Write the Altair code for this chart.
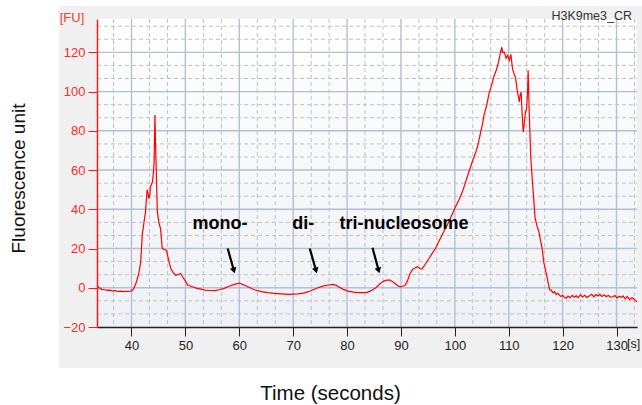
import altair as alt
import pandas as pd

# ---- trace ----
time_s = [33.6, 34.0, 34.5, 35.0, 35.5, 36.0, 36.5, 37.0, 37.5, 38.0, 38.5, 39.0, 39.5, 40.0,
          40.4, 40.8, 41.1, 41.4, 41.7, 42.0, 42.3, 42.6, 42.9, 43.1, 43.2, 43.4, 43.5, 43.9,
          44.1, 44.2, 44.3, 44.35, 44.45, 44.6, 44.8, 45.1, 45.4, 45.7, 46.1, 46.5, 46.9, 47.3,
          47.8, 48.2, 48.7, 49.1, 49.5, 50.1, 50.4, 51.3, 52.0, 52.9, 53.6, 54.5, 55.4, 56.3,
          57.2, 58.1, 59.1, 60.0, 60.8, 61.6, 62.8, 64.1, 65.3, 66.5, 67.8, 69.0, 70.0, 70.9,
          71.9, 72.8, 73.7, 74.6, 75.5, 76.5, 77.4, 78.0, 78.4, 79.3, 80.2, 81.2, 82.1, 83.6,
          84.4, 85.2, 86.0, 86.8, 87.4, 88.0, 88.5, 88.9, 89.4, 89.9, 90.4, 90.8, 91.2, 91.7,
          92.2, 92.7, 93.0, 93.5, 93.9, 94.5, 95.2, 95.8, 96.4, 97.0, 97.6, 98.2, 98.9, 99.5,
          100.1, 100.8, 101.4, 102.0, 102.6, 103.2, 103.9, 104.3, 104.8, 105.1, 105.4, 105.9,
          106.4, 106.8, 107.3, 107.7, 108.1, 108.4, 108.7, 108.9, 109.2, 109.5, 109.8, 110.1,
          110.4, 110.6, 110.7, 111.0, 111.3, 111.6, 111.96, 112.1, 112.3, 112.5, 112.7, 112.9,
          113.1, 113.3, 113.5, 113.6, 113.7, 113.8, 114.1, 114.4, 114.9, 115.3, 115.6, 115.9,
          116.2, 116.5, 116.9, 117.2, 117.4, 117.6, 117.9, 118.2, 118.5, 118.8, 119.1, 119.4,
          119.7, 120.0, 120.4, 120.7, 121.0, 121.4, 121.8, 122.2, 122.5, 122.9, 123.3, 123.7,
          124.1, 124.5, 125.0, 125.4, 125.8, 126.2, 126.6, 126.9, 127.3, 127.7, 128.1, 128.5,
          128.9, 129.3, 129.7, 130.1, 130.5, 130.9, 131.2, 131.6, 132.0, 132.4, 132.8, 133.1,
          133.5, 133.8]
fu = [1.0, 0.0, -0.8, -1.0, -1.3, -1.2, -1.6, -1.5, -1.9, -1.7, -2.0, -1.8, -1.9, -1.6,
      -0.5, 2.0, 4.7, 8.0, 13.0, 27.0, 33.0, 38.7, 50.0, 48.0, 45.5, 47.0, 51.4, 54.0,
      60.0, 64.0, 80.0, 88.0, 75.0, 59.0, 38.7, 33.0, 30.0, 20.0, 19.5, 19.0, 14.0, 9.8,
      7.5, 6.4, 6.8, 7.3, 5.5, 3.0, 1.4, 0.5, -0.2, -0.7, -1.2, -1.4, -1.5, -1.0,
      -0.3, 0.8, 1.7, 2.4, 1.5, 0.5, -1.0, -2.0, -2.5, -2.9, -3.1, -3.4, -3.2, -3.1,
      -2.7, -2.0, -1.0, 0.0, 0.8, 1.4, 1.7, 1.2, 0.5, -0.8, -1.7, -2.2, -2.5, -2.5,
      -1.6, -0.3, 1.8, 3.4, 3.9, 3.9, 3.0, 2.2, 1.0, 0.5, 0.9, 1.4, 3.5, 7.3,
      9.5, 10.2, 10.7, 9.8, 9.5, 12.0, 14.9, 17.5, 20.0, 23.5, 26.8, 30.0, 33.6, 37.5,
      41.2, 45.0, 48.9, 54.0, 59.0, 64.0, 69.2, 73.0, 79.4, 83.0, 87.9, 93.0,
      99.7, 103.0, 108.2, 111.0, 115.0, 119.0, 122.6, 120.0, 120.0, 117.0, 118.4, 116.0,
      119.0, 114.0, 111.6, 109.0, 106.5, 100.0, 94.7, 98.0, 99.7, 88.0, 79.4, 84.0,
      89.6, 91.0, 100.0, 110.8, 100.0, 89.6, 65.8, 54.0, 35.3, 31.0, 28.5, 24.0,
      20.0, 13.0, 8.1, 4.0, 1.4, -1.0, -1.2, -2.6, -2.0, -3.5, -2.8, -3.7,
      -4.5, -3.9, -5.0, -5.4, -4.2, -5.1, -3.9, -4.8, -4.1, -5.0, -3.6, -4.7,
      -3.8, -4.9, -4.1, -3.3, -4.6, -3.5, -4.2, -3.4, -4.4, -3.7, -4.5, -3.9,
      -4.8, -4.6, -4.0, -5.2, -4.3, -4.9, -4.1, -5.6, -4.4, -6.0, -5.2, -5.4,
      -6.5, -7.1]

# ---- ticks / grid ----
x_ticks = [40, 50, 60, 70, 80, 90, 100, 110, 120, 130]
y_ticks = [-20, 0, 20, 40, 60, 80, 100, 120]
x_domain = [33.6, 133.8]
y_domain = [-20, 137]
x_minor = [round(m + d, 3) for m in [30] + x_ticks for d in (10 / 3, 20 / 3)
           if x_domain[0] < m + d < x_domain[1]]
y_minor = [round(m + d, 3) for m in y_ticks for d in (20 / 3, 40 / 3)
           if y_domain[0] < m + d < y_domain[1]]

# ---- annotations ----
ann_labels = ["mono-", "di-", "tri-nucleosome"]
ann_x = [56.4, 71.85, 90.56]
ann_y = [32.6, 32.6, 32.6]
arrow_x1 = [57.85, 73.08, 84.72]
arrow_y1 = [20.0, 20.0, 20.4]
arrow_x2 = [59.0, 74.24, 85.86]
arrow_y2 = [8.8, 8.8, 8.8]

W, H = 540, 308
FONT = "Liberation Sans"

df = pd.DataFrame({"t": time_s, "fu": fu})
xs = alt.Scale(domain=x_domain, nice=False, zero=False)
ys = alt.Scale(domain=y_domain, nice=False, zero=False)
one = pd.DataFrame({"a": [0]})

x_axis = alt.Axis(values=x_ticks, title="Time (seconds)", grid=False,
                  domainColor="#222222", domainWidth=1.5, tickColor="#222222",
                  tickSize=9, labelColor="#222222", labelFont=FONT, labelFontSize=13,
                  labelPadding=3, titleFont=FONT, titleFontSize=20.5,
                  titleFontWeight="normal", titleColor="#111111",
                  titleX=233, titleY=66, titleBaseline="middle", zindex=1)
y_axis = alt.Axis(values=y_ticks, title="Fluorescence unit", grid=False,
                  domainColor="#ff1a1a", domainWidth=1.5, tickColor="#ff1a1a",
                  tickSize=9, labelColor="#ff2a2a", labelFont=FONT, labelFontSize=13,
                  labelPadding=3, titleFont=FONT, titleFontSize=19,
                  titleFontWeight="normal", titleColor="#111111",
                  titleX=-79, titleY=159, titleAngle=-90, titleAlign="center",
                  titleBaseline="middle", zindex=1)


def X(field):
    return alt.X(field, scale=xs, axis=x_axis)


def Y(field):
    return alt.Y(field, scale=ys, axis=y_axis)


panel = alt.Chart(one).mark_rect(color="#f0f0f0").encode(
    x=alt.value(-38), x2=alt.value(545), y=alt.value(-13), y2=alt.value(349))

bg = alt.Chart(one).mark_rect(
    color=alt.Gradient(gradient="linear",
                       stops=[alt.GradientStop(color="#ffffff", offset=0),
                              alt.GradientStop(color="#edf0f5", offset=1)],
                       x1=0, x2=0, y1=0, y2=1)
).encode(x=alt.value(0), x2=alt.value(W), y=alt.value(0), y2=alt.value(H))

gx_minor = alt.Chart(pd.DataFrame({"v": x_minor})).mark_rule(
    color="#c0c0c0", strokeWidth=1, strokeDash=[4, 3]).encode(
    x=X("v:Q"), y=alt.value(0), y2=alt.value(H))
gy_minor = alt.Chart(pd.DataFrame({"v": y_minor})).mark_rule(
    color="#c0c0c0", strokeWidth=1, strokeDash=[4, 3]).encode(
    y=Y("v:Q"), x=alt.value(0), x2=alt.value(W))
gx_major = alt.Chart(pd.DataFrame({"v": x_ticks})).mark_rule(
    color="#b4bfd2", strokeWidth=1.4).encode(
    x=X("v:Q"), y=alt.value(0), y2=alt.value(H))
gy_major = alt.Chart(pd.DataFrame({"v": y_ticks[1:]})).mark_rule(
    color="#b4bfd2", strokeWidth=1.4).encode(
    y=Y("v:Q"), x=alt.value(0), x2=alt.value(W))

line = alt.Chart(df).mark_line(color="#ff0000", strokeWidth=1.2, clip=True).encode(
    x=X("t:Q"), y=Y("fu:Q"), order="t:Q")

ann_df = pd.DataFrame({"label": ann_labels, "x": ann_x, "y": ann_y})
ann = alt.Chart(ann_df).mark_text(font=FONT, fontSize=18, fontWeight="bold",
                                  color="#000000", baseline="middle").encode(
    x=X("x:Q"), y=Y("y:Q"), text="label:N")

arr_df = pd.DataFrame({"x1": arrow_x1, "y1": arrow_y1, "x2": arrow_x2, "y2": arrow_y2})
arrows = alt.Chart(arr_df).mark_rule(color="#000000", strokeWidth=2.2).encode(
    x=X("x1:Q"), y=Y("y1:Q"), x2="x2:Q", y2="y2:Q")
heads = alt.Chart(arr_df).mark_point(shape="triangle-up", angle=164, filled=True,
                                     color="#000000", size=45, opacity=1).encode(
    x=X("x2:Q"), y=Y("y2:Q"))

fu_lbl = alt.Chart(one).mark_text(text="[FU]", font=FONT, fontSize=13, color="#ff3c28",
                                  align="center", baseline="middle").encode(
    x=alt.value(-25), y=alt.value(-1))
s_lbl = alt.Chart(one).mark_text(text="[s]", font=FONT, fontSize=12.5, color="#222222",
                                 align="left", baseline="top").encode(
    x=alt.value(530), y=alt.value(319))
title_lbl = alt.Chart(one).mark_text(text="H3K9me3_CR", font=FONT, fontSize=12.5,
                                     color="#333333", align="right",
                                     baseline="middle").encode(
    x=alt.value(535), y=alt.value(-3))

chart = alt.layer(panel, bg, gx_minor, gy_minor, gx_major, gy_major, line,
                  arrows, heads, ann, fu_lbl, s_lbl, title_lbl).properties(
    width=W, height=H,
    padding={"left": 97, "top": 19, "right": 5, "bottom": 78},
    autosize=alt.AutoSizeParams(type="none"),
    background="#ffffff",
).configure_view(stroke=None)

chart.save("out.html", embed_options={"renderer": "svg", "actions": False})
